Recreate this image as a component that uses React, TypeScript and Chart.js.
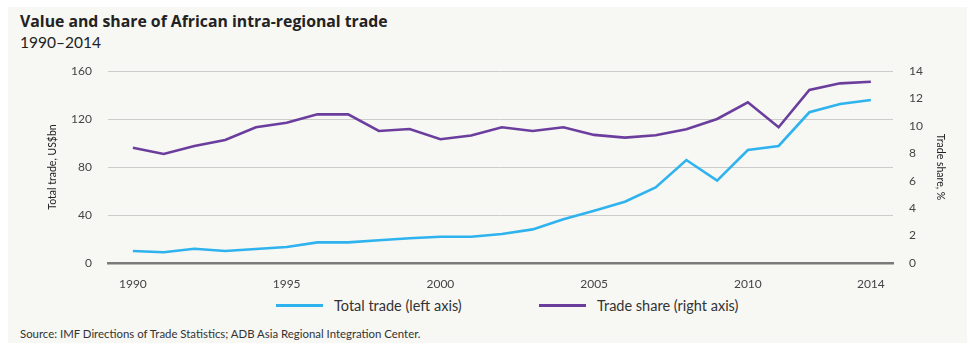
import React, { useEffect, useRef } from "react";
import { Chart, registerables } from "chart.js";

Chart.register(...registerables);

const years = [1990, 1991, 1992, 1993, 1994, 1995, 1996, 1997, 1998, 1999, 2000, 2001, 2002, 2003, 2004, 2005, 2006, 2007, 2008, 2009, 2010, 2011, 2012, 2013, 2014];
const totalTrade = [10, 8.9, 11.9, 10, 11.7, 13.3, 17.2, 17.2, 18.9, 20.6, 21.9, 21.9, 24.2, 28, 36.4, 43.6, 51.1, 63, 85.8, 68.6, 94.2, 97.5, 125.6, 132.5, 135.8];
const tradeShare = [8.41, 7.95, 8.53, 8.97, 9.9, 10.23, 10.84, 10.84, 9.63, 9.77, 9.02, 9.29, 9.9, 9.63, 9.9, 9.34, 9.14, 9.31, 9.75, 10.5, 11.72, 9.9, 12.62, 13.1, 13.22];
const xTickYears = [1990, 1995, 2000, 2005, 2010, 2014];
const leftTicks = [0, 40, 80, 120, 160];
const rightTicks = [0, 2, 4, 6, 8, 10, 12, 14];

const BLUE = "#2eb3ee";
const PURPLE = "#6b3e9e";
const TEXT = "#444444";
const FONT = "Lato, 'Open Sans', sans-serif";

export default function App() {
  const ref = useRef<HTMLCanvasElement | null>(null);

  useEffect(() => {
    if (!ref.current) return;
    const chart = new Chart(ref.current, {
      type: "line",
      data: {
        datasets: [
          {
            label: "Total trade (left axis)",
            data: years.map((y, i) => ({ x: y, y: totalTrade[i] })),
            borderColor: BLUE,
            backgroundColor: BLUE,
            borderWidth: 2.6,
            pointRadius: 0,
            yAxisID: "y",
            tension: 0,
          },
          {
            label: "Trade share (right axis)",
            data: years.map((y, i) => ({ x: y, y: tradeShare[i] })),
            borderColor: PURPLE,
            backgroundColor: PURPLE,
            borderWidth: 2.6,
            pointRadius: 0,
            yAxisID: "y1",
            tension: 0,
          },
        ],
      },
      options: {
        animation: false,
        responsive: false,
        maintainAspectRatio: false,
        layout: { padding: { top: 11, left: 0, right: 0, bottom: 0 } },
        plugins: {
          legend: { display: false },
          tooltip: { enabled: false },
          title: { display: false },
        },
        scales: {
          x: {
            type: "linear",
            min: 1989.19,
            max: 2014.72,
            grid: { display: false },
            border: { display: true, color: "#7a7a7a", width: 2.5 },
            afterBuildTicks: (s: any) => {
              s.ticks = xTickYears.map((v) => ({ value: v }));
            },
            afterFit: (s: any) => {
              s.height = 32;
              s.paddingLeft = 0;
              s.paddingRight = 0;
            },
            ticks: {
              padding: 6,
              color: TEXT,
              font: { family: FONT, size: 12 },
              maxRotation: 0,
              autoSkip: false,
              callback: (v: any) => String(v),
            },
          },
          y: {
            type: "linear",
            position: "left",
            min: 0,
            max: 160,
            afterBuildTicks: (s: any) => {
              s.ticks = leftTicks.map((v) => ({ value: v }));
            },
            afterFit: (s: any) => {
              s.width = 66;
              s.paddingTop = 0;
              s.paddingBottom = 0;
            },
            grid: { color: "#cccccc", lineWidth: 1, drawTicks: false },
            border: { display: false },
            ticks: {
              padding: 16,
              color: TEXT,
              font: { family: FONT, size: 12 },
              callback: (v: any) => String(v),
            },
            title: {
              display: true,
              text: "Total trade, US$bn",
              color: "#222",
              font: { family: FONT, size: 10.5 },
              padding: { top: 4, bottom: 4 },
            },
          },
          y1: {
            type: "linear",
            position: "right",
            min: 0,
            max: 14,
            afterBuildTicks: (s: any) => {
              s.ticks = rightTicks.map((v) => ({ value: v }));
            },
            afterFit: (s: any) => {
              s.width = 58;
              s.paddingTop = 0;
              s.paddingBottom = 0;
            },
            grid: { display: false, drawTicks: false },
            border: { display: false },
            ticks: {
              padding: 16,
              color: TEXT,
              font: { family: FONT, size: 12 },
              callback: (v: any) => String(v),
            },
            title: {
              display: true,
              text: "Trade share, %",
              color: "#222",
              font: { family: FONT, size: 10.5 },
              padding: { top: 4, bottom: 4 },
            },
          },
        },
      },
    });
    return () => chart.destroy();
  }, []);

  const legendItem = (color: string, label: string, lineLeft: number) => (
    <div style={{ position: "absolute", left: lineLeft, top: 296, height: 18, display: "flex", alignItems: "center" }}>
      <div style={{ width: 47, height: 3, background: color }} />
      <span style={{ marginLeft: 11, fontFamily: FONT, fontSize: 14.5, color: "#333", whiteSpace: "nowrap" }}>{label}</span>
    </div>
  );

  return (
    <div style={{ position: "absolute", left: 0, top: 0, width: 967, height: 345, background: "#ffffff", overflow: "hidden" }}>
      <div style={{ position: "absolute", left: 8, top: 7, width: 959, height: 336, background: "#f7f7f4" }} />
      <div style={{ position: "absolute", left: 20, top: 11, fontFamily: "'Open Sans', Lato, sans-serif", fontWeight: 700, fontSize: 15.8, lineHeight: "20px", color: "#222", whiteSpace: "nowrap" }}>
        Value and share of African intra-regional trade
      </div>
      <div style={{ position: "absolute", left: 20, top: 33, fontFamily: FONT, fontSize: 15.5, lineHeight: "18px", color: "#222", whiteSpace: "nowrap" }}>
        1990–2014
      </div>
      <canvas ref={ref} width={909} height={235} style={{ position: "absolute", left: 42, top: 60, width: 909, height: 235 }} />
      {legendItem(BLUE, "Total trade (left axis)", 276)}
      {legendItem(PURPLE, "Trade share (right axis)", 539)}
      <div style={{ position: "absolute", left: 20, top: 327, fontFamily: FONT, fontSize: 11.4, lineHeight: "14px", color: "#333", whiteSpace: "nowrap" }}>
        Source: IMF Directions of Trade Statistics; ADB Asia Regional Integration Center.
      </div>
    </div>
  );
}
